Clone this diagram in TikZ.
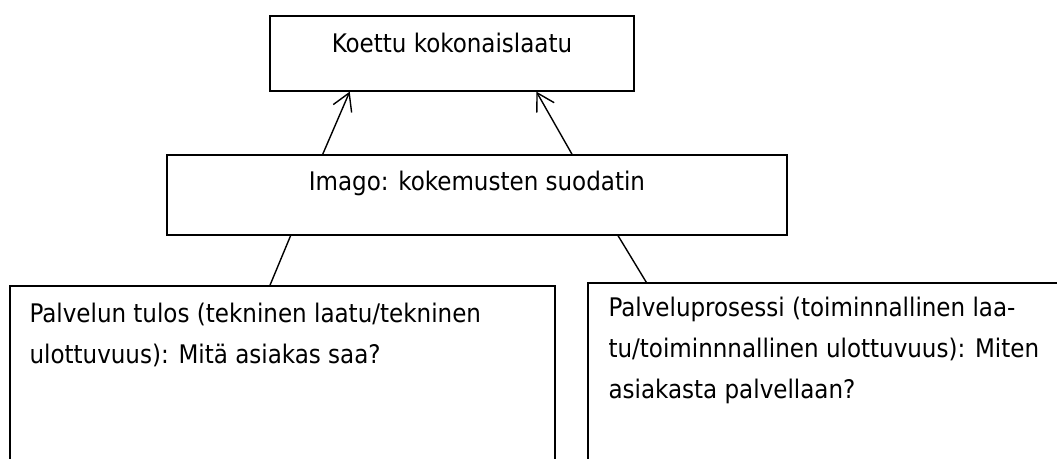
\documentclass[tikz,border=0pt]{standalone}
\usepackage{fontspec}
\setmainfont{DejaVu Sans Condensed}
\usetikzlibrary{arrows.meta,calc}
\begin{document}
\begin{tikzpicture}[x=1pt,y=-1pt,
  box/.style={draw, line width=1.3pt, inner sep=0pt, rectangle},
  txt/.style={font=\fontsize{25.6}{41}\selectfont, inner sep=0pt},
  link/.style={line width=1.4pt},
  arr/.style={link, -{Straight Barb[length=17pt,width=20pt]}}]
\useasboundingbox (0,0) rectangle (1057,458);
\clip (0,0) rectangle (1057,458);

% boxes
\node[box, minimum width=364pt, minimum height=75pt] (total) at (452,53.5) {};
\node[box, minimum width=620pt, minimum height=80pt] (imago) at (477,195) {};
\node[box, minimum width=545pt, minimum height=194pt] (tulos) at (282.5,383) {};
\node[box, minimum width=492pt, minimum height=197pt] (prosessi) at (834,381.5) {};

% texts (base anchor of a multi-line node sits on its last line)
\node[txt, anchor=base] (totaltxt) at ($(total.north)+(0,37)$) {Koettu kokonaislaatu};
\node[txt, anchor=base] (imagotxt) at ($(imago.north)+(0,36)$) {Imago: kokemusten suodatin};
\node[txt, anchor=base west, align=left] (tulostxt) at ($(tulos.north west)+(20,78)$)
  {Palvelun tulos (tekninen laatu/tekninen\\ulottuvuus): Mitä asiakas saa?};
\node[txt, anchor=base west, align=left] (prosessitxt) at ($(prosessi.north west)+(21,116)$)
  {Palveluprosessi (toiminnallinen laa-\\tu/toiminnnallinen ulottuvuus): Miten\\asiakasta palvellaan?};

% connectors
\draw[arr] ($(imago.north west)!0.2516!(imago.north east)$) -- ($(total.south west)!0.22!(total.south east)$);
\draw[arr] ($(imago.north west)!0.653!(imago.north east)$) -- ($(total.south west)!0.731!(total.south east)$);
\draw[link] ($(imago.south west)!0.2!(imago.south east)$) -- ($(tulos.north west)!0.477!(tulos.north east)$);
\draw[link] ($(imago.south west)!0.727!(imago.south east)$) -- ($(prosessi.north west)+(59,0)$);
\end{tikzpicture}
\end{document}
